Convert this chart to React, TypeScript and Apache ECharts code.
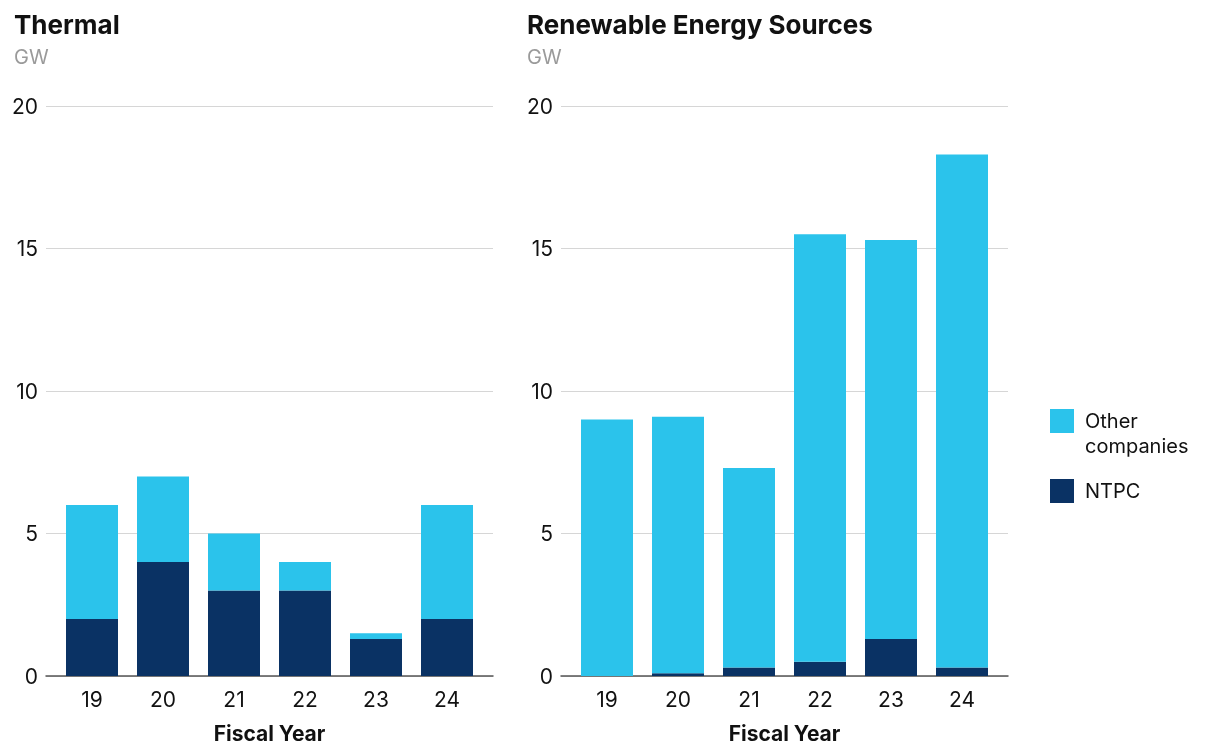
import React, { useEffect, useRef } from "react";
import * as echarts from "echarts";

const years = ["19", "20", "21", "22", "23", "24"];
const thermalNtpc = [2, 4, 3, 3, 1.3, 2];
const thermalOther = [4, 3, 2, 1, 0.2, 4];
const resNtpc = [0, 0.1, 0.3, 0.5, 1.3, 0.3];
const resOther = [9, 9, 7, 15, 14, 18];
const yTicks = { min: 0, max: 20, interval: 5 };

const CYAN = "#2bc3eb";
const NAVY = "#0a3264";
const FONT = "Inter";

export default function App() {
  const ref = useRef<HTMLDivElement>(null);
  useEffect(() => {
    if (!ref.current) return;
    const chart = echarts.init(ref.current, undefined, { renderer: "svg" });
    const top = 106;
    const bottom = 70;
    const frameW = 447;
    const barsW = 426;
    const lefts = [46, 561];
    const grids: any[] = [];
    lefts.forEach((l) => {
      grids.push({ left: l + (frameW - barsW) / 2, width: barsW, top, bottom, containLabel: false, outerBoundsMode: "none" });
      grids.push({ left: l, width: frameW, top, bottom, containLabel: false, outerBoundsMode: "none" });
    });
    const xAxis: any[] = [];
    const yAxis: any[] = [];
    [0, 1].forEach((p) => {
      xAxis.push({
        type: "category",
        gridIndex: p * 2,
        data: years,
        axisLine: { show: false },
        axisTick: { show: false },
        axisLabel: { color: "#111", fontSize: 21, fontFamily: FONT, margin: 13 },
        name: "Fiscal Year",
        nameLocation: "middle",
        nameGap: 47,
        nameTextStyle: { color: "#111", fontSize: 21, fontWeight: "bold", fontFamily: FONT },
      });
      xAxis.push({
        type: "category",
        gridIndex: p * 2 + 1,
        data: years,
        axisLine: { show: true, lineStyle: { color: "#555", width: 1.5 } },
        axisTick: { show: false },
        axisLabel: { show: false },
      });
      yAxis.push({
        type: "value",
        gridIndex: p * 2,
        ...yTicks,
        show: false,
        splitLine: { show: false },
      });
      yAxis.push({
        type: "value",
        gridIndex: p * 2 + 1,
        ...yTicks,
        axisLine: { show: false },
        axisTick: { show: false },
        axisLabel: { color: "#111", fontSize: 21, fontFamily: FONT, margin: 8 },
        splitLine: { show: true, lineStyle: { color: "#d6d6d6", width: 1 } },
      });
    });
    const mk = (name: string, data: number[], color: string, axis: number, stack: string) => ({
      type: "bar",
      name,
      data,
      xAxisIndex: axis,
      yAxisIndex: axis,
      stack,
      barWidth: 52,
      itemStyle: { color },
      z: 3,
    });
    const titleCommon = {
      top: 11,
      itemGap: 10,
      padding: 0,
      textStyle: { color: "#111", fontSize: 26, fontWeight: "bold", fontFamily: FONT },
      subtextStyle: { color: "#9a9a9a", fontSize: 20, fontFamily: FONT },
    };
    chart.setOption({
      animation: false,
      textStyle: { fontFamily: FONT },
      title: [
        { text: "Thermal", subtext: "GW", left: 14, ...titleCommon },
        { text: "Renewable Energy Sources", subtext: "GW", left: 527, ...titleCommon },
      ],
      legend: {
        data: ["Other companies", "NTPC"],
        orient: "vertical",
        left: 1050,
        top: 383.5,
        itemWidth: 24,
        itemHeight: 24,
        itemGap: -5,
        icon: "rect",
        padding: 0,
        formatter: (n: string) => (n === "Other companies" ? "\nOther\ncompanies" : "\n" + n + "\n"),
        textStyle: { color: "#111", fontSize: 20, fontFamily: FONT, lineHeight: 25, padding: [0, 0, 0, 6] },
      },
      grid: grids,
      xAxis,
      yAxis,
      series: [
        mk("NTPC", thermalNtpc, NAVY, 0, "t"),
        mk("Other companies", thermalOther, CYAN, 0, "t"),
        mk("NTPC", resNtpc, NAVY, 2, "r"),
        mk("Other companies", resOther, CYAN, 2, "r"),
      ],
    });
    return () => chart.dispose();
  }, []);
  return <div ref={ref} style={{ position: "fixed", left: 0, top: 0, width: 1210, height: 746 }} />;
}
